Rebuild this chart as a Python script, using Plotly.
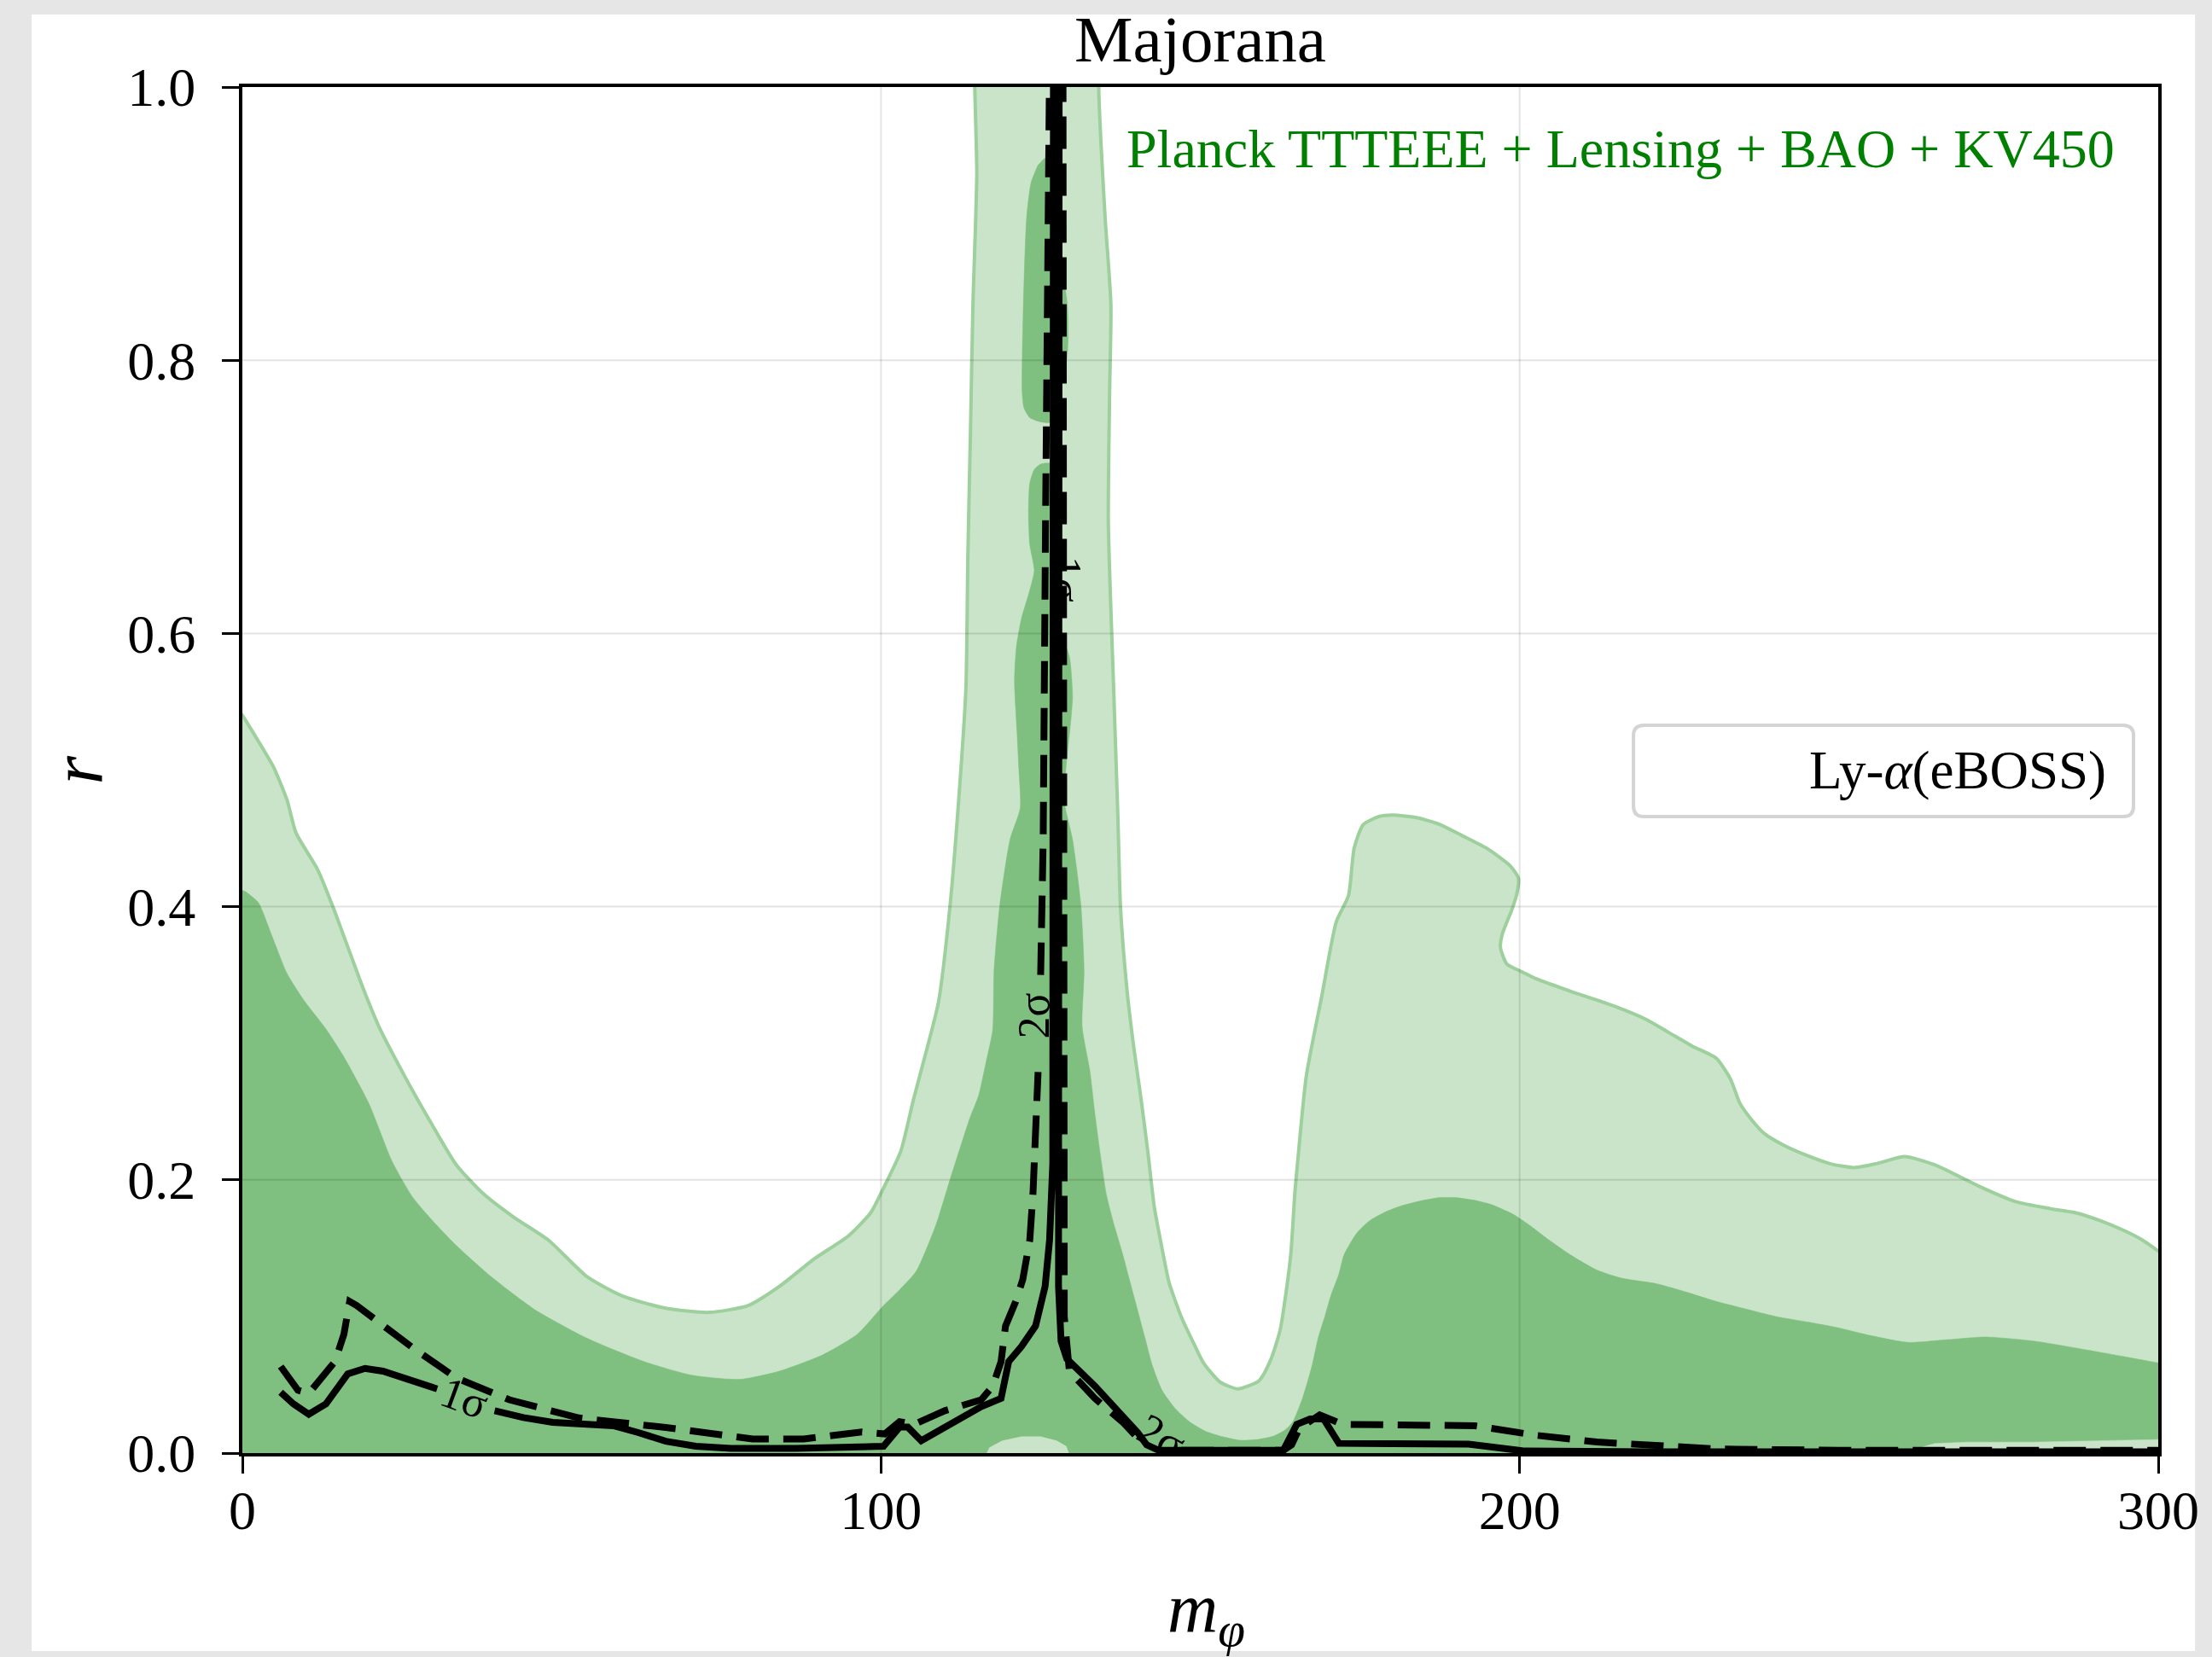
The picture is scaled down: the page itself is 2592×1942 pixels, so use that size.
import plotly.graph_objects as go

# ---------------- data ----------------
# Planck 2-sigma region (light) : outer boundary polygon
light_m = [-1, -1, 0, 2, 4.9, 7.0, 8.4, 11.8, 14.5, 18.6, 21.3, 25.4, 29.5, 33.5, 37.7, 42.4, 47.9, 54.0,
           59.5, 66.3, 73.1, 79.2, 84.1, 89.5, 94.9, 98.4, 100.4, 103.1, 105.1, 107.2, 109.0, 110.8, 112.2,
           113.3, 113.6, 114.0, 114.4, 115.0, 114.7, 114.7, 134.1, 134.1, 135.1, 136.0, 135.8, 135.6, 136.4,
           137.1, 137.5, 138.5, 139.5, 140.7, 141.8, 142.8, 144.0, 145.1, 147.0, 149.0, 150.5, 153.1, 155.9,
           159.2, 161.0, 162.5, 163.5, 164.2, 164.8, 165.2, 166.6, 169.0, 171.3, 173.2, 174.1, 175.5, 178.0,
           180.2, 184.0, 187.6, 191.0, 195.1, 198.5, 199.8, 199.6, 198.8, 197.3, 197.0, 198.0, 200.5, 202.7,
           208.0, 214.9, 220.0, 223.3, 227.0, 230.8, 233.0, 234.5, 236.5, 238.3, 241.5, 244.9, 248.5, 252.4,
           256.0, 260.3, 265.0, 272.1, 277.7, 283.0, 287.0, 291.0, 294.6, 297.5, 300.0, 301, 301]
light_r = [-0.01, 0.545, 0.540, 0.525, 0.502, 0.478, 0.454, 0.427, 0.396, 0.344, 0.313, 0.276, 0.242, 0.211,
           0.190, 0.173, 0.156, 0.129, 0.115, 0.106, 0.103, 0.108, 0.122, 0.142, 0.159, 0.176, 0.194, 0.221,
           0.259, 0.296, 0.330, 0.400, 0.480, 0.560, 0.656, 0.745, 0.841, 0.936, 0.998, 1.02, 1.02, 0.998,
           0.904, 0.841, 0.777, 0.681, 0.564, 0.465, 0.400, 0.340, 0.300, 0.260, 0.220, 0.180, 0.150, 0.125,
           0.100, 0.080, 0.066, 0.052, 0.047, 0.053, 0.068, 0.090, 0.120, 0.147, 0.190, 0.211, 0.276, 0.334,
           0.389, 0.408, 0.443, 0.460, 0.466, 0.467, 0.465, 0.460, 0.452, 0.442, 0.430, 0.421, 0.410, 0.398,
           0.380, 0.370, 0.358, 0.352, 0.347, 0.338, 0.327, 0.317, 0.308, 0.298, 0.289, 0.274, 0.256, 0.243,
           0.234, 0.225, 0.218, 0.212, 0.209, 0.212, 0.217, 0.211, 0.195, 0.184, 0.179, 0.176, 0.170, 0.163,
           0.156, 0.148, 0.145, -0.01]

# Planck 1-sigma region (dark) : main polygon
dark_m = [-1, -1, 0, 0.5, 2.5, 4.6, 7.0, 9.7, 13.0, 15.9, 19.9, 23.4, 26.7, 30.0, 33.5, 39.0, 45.8, 54.0,
          62.9, 70.4, 77.9, 84.1, 90.9, 96.3, 100.4, 103.0, 105.5, 108.6, 110.8, 112.5, 113.9, 115.3, 116.4,
          117.5, 117.7, 118.6, 120.2, 121.8, 121.6, 121.3, 120.9, 121.2, 122.0, 123.2, 124.0, 123.3, 123.1,
          123.3, 124.0, 125.0, 126.8, 126.8, 128.2, 129.5, 130.0, 129.6, 129.1, 128.7, 130.0, 131.3, 131.8,
          131.5, 132.7, 133.4, 134.3, 135.3, 136.5, 137.7, 138.9, 140.1, 141.3, 142.5, 144.0, 146.0, 148.3,
          150.8, 153.5, 156.2, 159.0, 161.5, 163.3, 164.5, 166.0, 167.5, 168.5, 169.5, 170.5, 171.7, 172.5,
          174.5, 176.5, 179.2, 181.5, 184.9, 187.5, 190.0, 193.0, 195.5, 198.9, 201.5, 204.6, 208.0, 212.1,
          216.0, 221.4, 226.0, 230.8, 235.0, 240.1, 245.0, 249.6, 255.0, 260.8, 267.0, 273.0, 280.5, 287.0,
          293.0, 300.0, 301, 301]
dark_r = [-0.01, 0.412, 0.412, 0.411, 0.403, 0.379, 0.351, 0.331, 0.311, 0.290, 0.255, 0.214, 0.187, 0.169,
          0.152, 0.129, 0.105, 0.084, 0.067, 0.057, 0.054, 0.060, 0.072, 0.087, 0.108, 0.120, 0.133, 0.167,
          0.200, 0.225, 0.245, 0.262, 0.285, 0.310, 0.353, 0.401, 0.449, 0.472, 0.500, 0.528, 0.565, 0.590,
          0.611, 0.630, 0.646, 0.665, 0.688, 0.710, 0.720, 0.724, 0.724, 0.600, 0.598, 0.583, 0.554, 0.530,
          0.509, 0.477, 0.449, 0.401, 0.353, 0.312, 0.280, 0.252, 0.220, 0.189, 0.167, 0.148, 0.127, 0.106,
          0.085, 0.064, 0.046, 0.033, 0.023, 0.016, 0.012, 0.0094, 0.010, 0.0125, 0.017, 0.023, 0.040, 0.064,
          0.085, 0.100, 0.116, 0.131, 0.145, 0.161, 0.170, 0.177, 0.181, 0.185, 0.187, 0.187, 0.185, 0.182,
          0.175, 0.167, 0.156, 0.145, 0.134, 0.128, 0.124, 0.118, 0.111, 0.106, 0.100, 0.096, 0.092, 0.086,
          0.081, 0.083, 0.085, 0.082, 0.077, 0.072, 0.066, 0.065, -0.01]

# small 1-sigma islands near the top of the resonance band
island_a_m = [124.6, 123.5, 122.8, 122.3, 122.1, 122.4, 123.3, 124.9, 126.8, 126.8, 125.6]
island_a_r = [0.943, 0.930, 0.904, 0.841, 0.777, 0.765, 0.758, 0.755, 0.755, 0.943, 0.948]
island_b_m = [127.8, 128.6, 129.2, 129.3, 128.9, 127.8]
island_b_r = [0.865, 0.858, 0.840, 0.815, 0.797, 0.795]

# 2-sigma-only pockets at the bottom
pocket_c_m = [115.5, 117.0, 119.0, 122.0, 125.0, 127.5, 129.0, 130.2]
pocket_c_r = [-0.01, 0.004, 0.009, 0.012, 0.012, 0.009, 0.005, -0.01]
pocket_r_m = [260.0, 262.0, 265.0, 270.0, 280.0, 290.0, 300.0, 301.0, 301.0]
pocket_r_r = [-0.01, 0.003, 0.007, 0.008, 0.008, 0.009, 0.010, 0.010, -0.01]

# Ly-alpha (eBOSS) 1-sigma contour (solid)
lya1_m = [6.0, 8.0, 10.4, 13.1, 16.5, 19.2, 22.0, 26.0, 30.5, None, 39.5, 44.0, 48.6, 58.1, 62.0, 66.3, 71.0,
          76.5, 86.7, 95.0, 100.4, 102.9, 104.2, 106.3, 115.7, 118.8, 120.0, 122.0, 124.2, 125.7, 126.4, 126.9,
          127.0, 127.0, 127.9, 127.9, 127.8, 128.2, 129.1, 133.5, 136.7, 140.2, 141.6, 143.5, 150.0, 163.0,
          165.1, 167.2, 169.3, 171.7, 180.0, 192.0, 200.8, 220.0, 300.0]
lya1_r = [0.0445, 0.036, 0.0284, 0.036, 0.058, 0.062, 0.060, 0.054, 0.047, None, 0.031, 0.026, 0.0225, 0.020,
          0.015, 0.0087, 0.005, 0.0035, 0.0035, 0.004, 0.005, 0.019, 0.019, 0.009, 0.034, 0.040, 0.067, 0.078,
          0.093, 0.122, 0.156, 0.212, 0.500, 1.02, 1.02, 0.500, 0.122, 0.082, 0.069, 0.049, 0.033, 0.015, 0.006,
          0.002, 0.002, 0.002, 0.021, 0.025, 0.025, 0.0071, 0.0068, 0.0065, 0.0015, 0.001, 0.001]

# Ly-alpha (eBOSS) 2-sigma contour (dashed)
lya2_m = [6.0, 8.7, 10.4, 14.5, 15.9, 16.8, 17.9, 22.0, 26.7, 33.5, 41.8, 52.7, 66.3, 79.9, 87.9, 97.0, 100.6,
          102.9, 105.2, 110.0, 115.7, 117.5, 118.8, 119.5, 121.1, 122.2, 123.3, 123.8, 124.2, 124.6, None, 125.0,
          125.4, 125.8, 126.3, 126.4, 128.5, 128.6, 128.7, 129.5, 133.5, 138.0, 140.6, None, 147.0, 163.0, 164.3,
          165.5, 168.7, 171.0, 172.3, 193.0, 198.5, 202.6, 212.1, 230.8, 250.0, 300.0]
lya2_r = [0.0634, 0.046, 0.0437, 0.067, 0.087, 0.111, 0.108, 0.093, 0.077, 0.055, 0.039, 0.0257, 0.0187, 0.0103,
          0.0103, 0.0155, 0.014, 0.023, 0.021, 0.031, 0.039, 0.049, 0.067, 0.093, 0.111, 0.127, 0.156, 0.190,
          0.234, 0.279, None, 0.350, 0.450, 0.700, 0.950, 1.02, 1.02, 0.500, 0.100, 0.060, 0.040, 0.022, 0.009,
          None, 0.002, 0.002, 0.006, 0.018, 0.028, 0.023, 0.021, 0.020, 0.016, 0.013, 0.0081, 0.003, 0.002, 0.002]

# contour labels
clabel_text = ["1σ", "2σ", "1σ", "2σ"]
clabel_m = [34.8, 124.0, 128.9, 143.9]
clabel_r = [0.040, 0.320, 0.640, 0.012]
clabel_angle = [20, -90, 90, 30]

x_ticks = [0, 100, 200, 300]
y_ticks = [0.0, 0.2, 0.4, 0.6, 0.8, 1.0]
y_ticktext = ["0.0", "0.2", "0.4", "0.6", "0.8", "1.0"]
x_grid = [100, 200]
y_grid = [0.2, 0.4, 0.6, 0.8]

for a, b in [(light_m, light_r), (dark_m, dark_r), (island_a_m, island_a_r), (island_b_m, island_b_r),
             (pocket_c_m, pocket_c_r), (pocket_r_m, pocket_r_r), (lya1_m, lya1_r), (lya2_m, lya2_r)]:
    assert len(a) == len(b), (len(a), len(b))

# ---------------- styling ----------------
LIGHT = "#c9e4c9"
LIGHT_EDGE = "#9dd09d"
DARK = "#7fbf7f"
FONT = "Liberation Serif"

fig = go.Figure()

fig.add_trace(go.Scatter(x=light_m, y=light_r, mode="lines", fill="toself", fillcolor=LIGHT,
                         line=dict(color=LIGHT_EDGE, width=4, shape="spline", smoothing=0.6),
                         hoverinfo="skip", showlegend=False))
for mm, rr in [(dark_m, dark_r), (island_a_m, island_a_r), (island_b_m, island_b_r)]:
    fig.add_trace(go.Scatter(x=mm, y=rr, mode="lines", fill="toself", fillcolor=DARK,
                             line=dict(color=DARK, width=0.5, shape="spline", smoothing=0.6),
                             hoverinfo="skip", showlegend=False))
for mm, rr in [(pocket_c_m, pocket_c_r), (pocket_r_m, pocket_r_r)]:
    fig.add_trace(go.Scatter(x=mm, y=rr, mode="lines", fill="toself", fillcolor=LIGHT,
                             line=dict(color=LIGHT, width=0.5), hoverinfo="skip", showlegend=False))

fig.add_trace(go.Scatter(x=lya1_m, y=lya1_r, mode="lines", connectgaps=False,
                         line=dict(color="black", width=8), hoverinfo="skip", showlegend=False))
fig.add_trace(go.Scatter(x=lya2_m, y=lya2_r, mode="lines", connectgaps=False,
                         line=dict(color="black", width=8, dash="38px,17px"), hoverinfo="skip",
                         showlegend=False))

shapes = []
# outer light-grey frame with white card
shapes.append(dict(type="rect", xref="paper", yref="paper", x0=-0.110, x1=1.0192, y0=-0.1449, y1=1.0531,
                   fillcolor="white", line=dict(width=0), layer="below"))
for g in x_grid:
    shapes.append(dict(type="line", xref="x", yref="paper", x0=g, x1=g, y0=0, y1=1,
                       line=dict(color="rgba(0,0,0,0.11)", width=2), layer="above"))
for g in y_grid:
    shapes.append(dict(type="line", xref="paper", yref="y", x0=0, x1=1, y0=g, y1=g,
                       line=dict(color="rgba(0,0,0,0.11)", width=2), layer="above"))
# legend box (rounded)
x0, x1, y0, y1 = 0.7261, 0.9871, 0.466, 0.5328
rx, ry = 0.0055, 0.0075
path = (f"M {x0+rx},{y0} L {x1-rx},{y0} Q {x1},{y0} {x1},{y0+ry} L {x1},{y1-ry} Q {x1},{y1} {x1-rx},{y1} "
        f"L {x0+rx},{y1} Q {x0},{y1} {x0},{y1-ry} L {x0},{y0+ry} Q {x0},{y0} {x0+rx},{y0} Z")
shapes.append(dict(type="path", xref="paper", yref="paper", path=path, fillcolor="rgba(255,255,255,0.8)",
                   line=dict(color="#d4d4d4", width=4), layer="above"))

annotations = [
    dict(text="Majorana", xref="paper", yref="paper", x=0.5, y=1.035, showarrow=False,
         font=dict(family=FONT, size=77, color="black"), xanchor="center", yanchor="middle"),
    dict(text="Planck TTTEEE + Lensing + BAO + KV450", xref="paper", yref="paper", x=0.978, y=0.955,
         showarrow=False, font=dict(family=FONT, size=64, color="#008000"), xanchor="right",
         yanchor="middle"),
    dict(text="Ly-<i>α</i>(eBOSS)", xref="paper", yref="paper", x=0.9737, y=0.4997, showarrow=False,
         font=dict(family=FONT, size=63, color="black"), xanchor="right", yanchor="middle"),
    dict(text="<i>r</i>", xref="paper", yref="paper", x=-0.086, y=0.5, showarrow=False, textangle=-90,
         font=dict(family=FONT, size=86, color="black"), xanchor="center", yanchor="middle"),
    dict(text="<i>m</i><sub><i>φ</i></sub>", xref="paper", yref="paper", x=0.503, y=-0.1165,
         showarrow=False, font=dict(family=FONT, size=82, color="black"), xanchor="center",
         yanchor="middle"),
]
for t, mm, rr, ang in zip(clabel_text, clabel_m, clabel_r, clabel_angle):
    annotations.append(dict(text=t, x=mm, y=rr, xref="x", yref="y", showarrow=False, textangle=ang,
                            font=dict(family=FONT, size=52, color="black"),
                            xanchor="center", yanchor="middle"))

fig.update_layout(
    width=2592, height=1942,
    margin=dict(l=284, r=63, t=102, b=239),
    paper_bgcolor="#e6e6e6", plot_bgcolor="rgba(0,0,0,0)",
    shapes=shapes, annotations=annotations, showlegend=False,
    xaxis=dict(range=[0, 300], tickvals=x_ticks, ticks="outside", ticklen=20, tickwidth=3,
               tickcolor="black", showline=True, linewidth=4, linecolor="black", mirror=True,
               showgrid=False, zeroline=False, tickfont=dict(family=FONT, size=64, color="black"),
               ticklabelstandoff=-12),
    yaxis=dict(range=[0, 1], tickvals=y_ticks, ticktext=y_ticktext, ticks="outside", ticklen=20,
               tickwidth=3, tickcolor="black", showline=True, linewidth=4, linecolor="black",
               mirror=True, showgrid=False, zeroline=False,
               tickfont=dict(family=FONT, size=64, color="black"), ticklabelstandoff=18),
)

fig.write_html("out.html")
